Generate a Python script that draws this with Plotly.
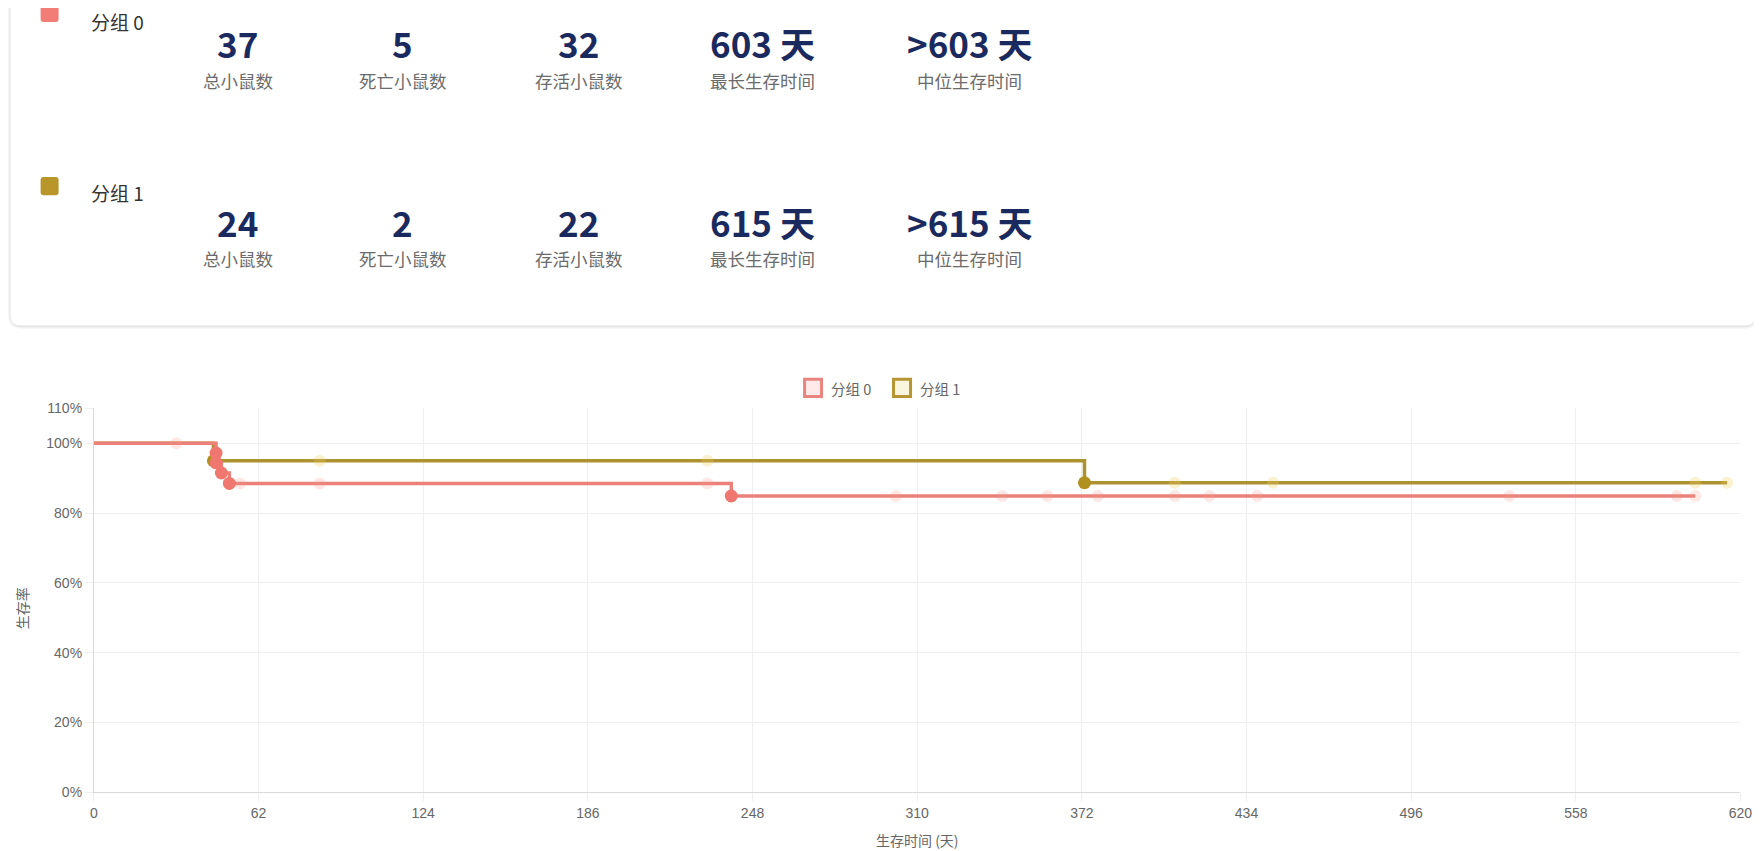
import plotly.graph_objects as go

W, H = 1762, 851

# ---------------- data ----------------
group_names = ["分组 0", "分组 1"]
total_mice = [37, 24]
dead_mice = [5, 2]
alive_mice = [32, 22]
max_survival = [603, 615]
median_text = [">603 天", ">615 天"]
stat_labels = ["总小鼠数", "死亡小鼠数", "存活小鼠数", "最长生存时间", "中位生存时间"]

# status: -1 start, 1 death (event), 0 censored
times0 = [0, 31, 46, 46, 48, 51, 55, 85, 231, 240, 302, 342, 359, 378, 407, 420, 438, 533, 596, 603]
surv0 = [100, 100, 97.2, 94.4, 91.5, 88.5, 88.5, 88.5, 88.5, 84.9, 84.9, 84.9, 84.9, 84.9, 84.9, 84.9, 84.9, 84.9, 84.9, 84.9]
status0 = [-1, 0, 1, 1, 1, 1, 0, 0, 0, 1, 0, 0, 0, 0, 0, 0, 0, 0, 0, 0]

times1 = [0, 45, 85, 231, 373, 407, 444, 603, 615]
surv1 = [100, 95.0, 95.0, 95.0, 88.7, 88.7, 88.7, 88.7, 88.7]
status1 = [-1, 1, 0, 0, 1, 0, 0, 0, 0]

x_ticks = [0, 62, 124, 186, 248, 310, 372, 434, 496, 558, 620]
y_ticks = [0, 20, 40, 60, 80, 100, 110]
y_tick_text = ["0%", "20%", "40%", "60%", "80%", "100%", "110%"]

# ---------------- styles ----------------
line_cols = ["#EC8179", "#AD9232"]
event_cols = ["#F0776F", "#B0901F"]
cens_cols = ["rgba(246,150,140,0.22)", "rgba(238,205,90,0.28)"]
icon_cols = ["#F27C76", "#B8962A"]
legend_fill = ["rgba(248,118,109,0.15)", "rgba(230,200,80,0.18)"]
legend_line = ["#E9857E", "#B59633"]
NAVY = "#1B2A5E"
GRAY = "#6B6B6B"
CJK = "Noto Sans CJK SC"
LAT = "Liberation Sans, Noto Sans CJK SC"

# layout placement helpers (target pixel position -> paper fraction)
SX, MX = 0.991, 11.5
SY, MY = 0.98, 16.4


def px(x):
    return (x / SX - MX) / W


def py(y):
    return 1 - (y / SY - MY) / H


def rrect(x0, y0, x1, y1, r):
    rx, ry = r / W, r / H
    X0, X1 = px(x0), px(x1)
    Y0, Y1 = py(y0), py(y1)
    return (f"M {X0+rx},{Y0} L {X1-rx},{Y0} Q {X1},{Y0} {X1},{Y0-ry} "
            f"L {X1},{Y1+ry} Q {X1},{Y1} {X1-rx},{Y1} L {X0+rx},{Y1} "
            f"Q {X0},{Y1} {X0},{Y1+ry} L {X0},{Y0-ry} Q {X0},{Y0} {X0+rx},{Y0} Z")


fig = go.Figure()

series = [(times1, surv1, status1, 1), (times0, surv0, status0, 0)]
for t, s, st, gi in series:
    fig.add_trace(go.Scatter(x=t, y=s, mode="lines", line=dict(color=line_cols[gi], width=3.5, shape="hv"),
                             showlegend=False, hoverinfo="skip"))
    ct = [a for a, b in zip(t, st) if b == 0]
    cs = [a for a, b in zip(s, st) if b == 0]
    fig.add_trace(go.Scatter(x=ct, y=cs, mode="markers", marker=dict(color=cens_cols[gi], size=12),
                             showlegend=False, cliponaxis=False))
    et = [a for a, b in zip(t, st) if b == 1]
    es = [a for a, b in zip(s, st) if b == 1]
    fig.add_trace(go.Scatter(x=et, y=es, mode="markers", marker=dict(color=event_cols[gi], size=13),
                             showlegend=False, cliponaxis=False))

shapes = []
annotations = []

# card with shadow
for i, a in enumerate([0.025, 0.03, 0.04]):
    g = 3 - i
    shapes.append(dict(type="path", xref="paper", yref="paper", layer="below",
                       path=rrect(10 - g, -30, 1755 + g, 325 + g + 1, 12 + g),
                       fillcolor=f"rgba(0,0,0,{a})", line=dict(width=0)))
shapes.append(dict(type="path", xref="paper", yref="paper", layer="below",
                   path=rrect(10, -30, 1755, 325, 10), fillcolor="white", line=dict(width=0)))

row_title_y = [22, 192]
row_icon_y = [(-6, 22), (177, 195)]
row_num_y = [43, 221]
row_lab_y = [80, 258]
col_x = [237, 402, 578, 762, 969]

for gi in range(2):
    y0, y1 = row_icon_y[gi]
    shapes.append(dict(type="path", xref="paper", yref="paper",
                       path=rrect(40, y0, 58, y1, 3), fillcolor=icon_cols[gi], line=dict(width=0)))
    annotations.append(dict(x=px(88), y=py(row_title_y[gi]), xref="paper", yref="paper", xanchor="left",
                            yanchor="middle", showarrow=False, text=group_names[gi],
                            font=dict(family=CJK, size=19, color="#333333")))
    vals = [str(total_mice[gi]), str(dead_mice[gi]), str(alive_mice[gi]),
            f"{max_survival[gi]} 天", median_text[gi]]
    for ci in range(5):
        annotations.append(dict(x=px(col_x[ci]), y=py(row_num_y[gi]), xref="paper", yref="paper",
                                xanchor="center", yanchor="middle", showarrow=False,
                                text=f"<b>{vals[ci]}</b>", font=dict(family=CJK, size=35, color=NAVY)))
        annotations.append(dict(x=px(col_x[ci]), y=py(row_lab_y[gi]), xref="paper", yref="paper",
                                xanchor="center", yanchor="middle", showarrow=False,
                                text=stat_labels[ci], font=dict(family=CJK, size=17.5, color=GRAY)))

# legend (manual)
leg_box_x = [804, 893]
for gi in range(2):
    shapes.append(dict(type="rect", xref="paper", yref="paper",
                       x0=px(leg_box_x[gi]), x1=px(leg_box_x[gi] + 17), y0=py(379), y1=py(396),
                       fillcolor=legend_fill[gi], line=dict(color=legend_line[gi], width=3)))
    annotations.append(dict(x=px(leg_box_x[gi] + 24), y=py(388), xref="paper", yref="paper",
                            xanchor="left", yanchor="middle", showarrow=False, text=group_names[gi],
                            font=dict(family=CJK, size=14.5, color="#666666")))

# axis titles
annotations.append(dict(x=px(916.5), y=py(839), xref="paper", yref="paper", xanchor="center",
                        yanchor="middle", showarrow=False, text="生存时间 (天)",
                        font=dict(family=CJK, size=14, color="#666666")))
annotations.append(dict(x=px(21), y=py(608), xref="paper", yref="paper", xanchor="center",
                        yanchor="middle", showarrow=False, text="生存率", textangle=-90,
                        font=dict(family=CJK, size=14, color="#666666")))

fig.update_layout(
    width=W, height=H, margin=dict(l=0, r=0, t=0, b=0),
    paper_bgcolor="white", plot_bgcolor="white",
    shapes=shapes, annotations=annotations, showlegend=False,
    xaxis=dict(domain=[px(93.3), px(1740)], range=[0, 620], tickvals=x_ticks,
               showgrid=True, gridcolor="#EFEFEF", gridwidth=1, zeroline=False,
               showline=True, linecolor="#DADADA", linewidth=1,
               ticks="outside", ticklen=8, tickcolor="#EFEFEF",
               tickfont=dict(family=LAT, size=14, color="#666666"), fixedrange=True),
    yaxis=dict(domain=[py(791.5), py(408)], range=[0, 110], tickvals=y_ticks, ticktext=y_tick_text,
               showgrid=True, gridcolor="#EFEFEF", gridwidth=1, zeroline=False,
               showline=True, linecolor="#DADADA", linewidth=1,
               ticks="outside", ticklen=8, tickcolor="#EFEFEF",
               tickfont=dict(family=LAT, size=14, color="#666666"), fixedrange=True),
)

fig.write_html("out.html")
